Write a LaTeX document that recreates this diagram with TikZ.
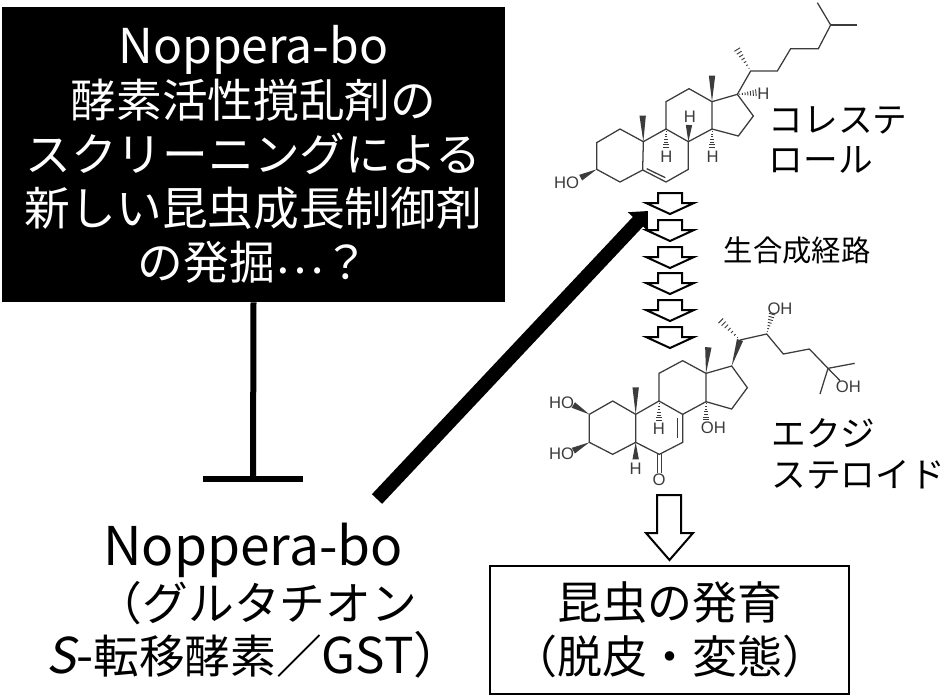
\documentclass[tikz,border=0pt]{standalone}
\usepackage{fontspec}
\setmainfont{Noto Sans CJK JP}
\newfontfamily\slantjp[FakeSlant=0.2]{Noto Sans CJK JP}
\newfontfamily\chemfont{Liberation Sans}
\usepackage{tikz}
\usetikzlibrary{calc,positioning,arrows.meta}
\definecolor{bondGris}{RGB}{60,60,60}
\tikzset{
  bigtext/.style={font=\fontsize{33.75}{40.5}\selectfont, align=center, inner sep=0pt},
  midtext/.style={font=\fontsize{26}{30.5}\selectfont, align=left, inner sep=0pt},
  smalltext/.style={font=\fontsize{22}{26}\selectfont, inner sep=0pt},
  atomo/.style={font=\chemfont\fontsize{12.5}{14}\selectfont, text=bondGris, inner sep=0pt},
  bond/.style={draw=bondGris, line width=0.95pt, line join=miter},
  hollow/.style={draw=black, fill=white, line width=1.5pt, line join=miter},
}
\newcommand{\wedgebond}[2]{\fill[bondGris] #1 -- ($#2!2.4pt!90:#1$) -- ($#2!2.4pt!-90:#1$) -- cycle;}
\newcommand{\hashbond}[2]{\foreach \t in {0.12,0.26,0.40,0.54,0.68,0.82,0.96}
  {\draw[bondGris, line width=0.7pt] ($#1!\t!#2!\t*2.6pt!90:#2$) -- ($#1!\t!#2!\t*2.6pt!-90:#2$);}}
\begin{document}
\begin{tikzpicture}[x=0.75pt,y=-0.75pt]
  \useasboundingbox (0,0) rectangle (945,697);
  % Black box
  \node[bigtext, fill=black, text=white, font=\fontsize{34.3}{40.5}\selectfont,
    minimum width=377.25pt, minimum height=221.25pt] (caja) at (253.5,154.5)
    {\fontsize{36}{40.5}\selectfont Noppera-bo\\酵素活性撹乱剤の\\スクリーニングによる\\新しい昆虫成長制御剤\\の発掘\raisebox{4.5pt}{⋯}？};
  % Inhibition bar
  \coordinate (barEnd) at (253,479);
  \coordinate (barL) at (203,479);
  \coordinate (barR) at (303,479);
  \draw[line width=4.5pt] (caja.south) -- (barEnd);
  \draw[line width=4.5pt] (barL) -- (barR);
  % GST label
  \node[bigtext, font=\fontsize{40}{44}\selectfont] (gstA) at (253,550) {Noppera-bo};
  \node[bigtext, font=\fontsize{34.3}{40}\selectfont] (gstB) at (257,603) {（グルタチオン};
  \node[bigtext, font=\fontsize{34.3}{40}\selectfont] (gstC) at (255,655)
    {\fontsize{37}{40}\selectfont{\slantjp S}-\fontsize{34.3}{40}\selectfont 転移酵素／\fontsize{37}{40}\selectfont GST）};
  % Big arrow
  \coordinate (flechaIni) at (377,499);
  \coordinate (flechaFin) at (648,211);
  \draw[line width=10.5pt, -{Triangle[length=11pt,width=20pt]}] (flechaIni) -- (flechaFin);
  % Pathway arrows
  \foreach \y in {193,220,247,273,300,327}
    \draw[hollow] (658,\y) -- (682,\y) -- (682,\y+10) -- (694,\y+10) -- (670,\y+21)
      -- (646,\y+10) -- (658,\y+10) -- cycle;
  \node[smalltext] (ruta) at (797,250) {生合成経路};
  \draw[hollow] (657,495) -- (681,495) -- (681,533) -- (693,533) -- (669.5,560)
    -- (646,533) -- (657,533) -- cycle;
  % Result box
  \node[bigtext, draw=black, line width=1.5pt, minimum width=269pt, minimum height=96pt]
    (fase) at (669.5,629.5) {昆虫の発育\\（脱皮・変態）};
  % Labels of the molecules
  \node[midtext] (colesterol) at (838,140) {コレステ\\ロール};
  \node[midtext] (ecdy) at (858,454) {エクジ\\ステロイド};
  % Cholesterol
  \begin{scope}[shift={(540,0)},x=0.25pt,y=-0.25pt]
    \draw[bond] (170,508) -- (240,546) -- (308,510) -- (310,425) -- (240,387) -- (170,428) -- cycle;
    \draw[bond] (308,510) -- (378,546) -- (445,508) -- (445,425) -- (378,387) -- (310,425);
    \draw[bond] (320,506) -- (376,533);
    \draw[bond] (378,387) -- (378,305) -- (447,266) -- (516,305) -- (516,387) -- (445,425);
    \draw[bond] (516,387) -- (595,408) -- (640,348) -- (592,283) -- (516,305);
    \draw[bond] (592,283) -- (632,213) -- (712,213) -- (752,146) -- (835,146) -- (872,75) -- (832,8);
    \draw[bond] (872,75) -- (952,75);
    \hashbond{(632,213)}{(590,146)}
    \hashbond{(592,283)}{(650,278)}
    \wedgebond{(516,305)}{(516,227)}
    \wedgebond{(310,425)}{(308,347)}
    \wedgebond{(445,425)}{(447,375)}
    \wedgebond{(170,508)}{(122,533)}
    \hashbond{(378,387)}{(378,445)}
    \hashbond{(516,387)}{(516,445)}
    \node[atomo] (hoC) at (80,547) {HO};
    \node[atomo] (hA) at (670,280) {H};
    \node[atomo] (hB) at (450,350) {H};
    \node[atomo] (hC) at (379,470) {H};
    \node[atomo] (hD) at (518,470) {H};
  \end{scope}
  % Ecdysteroid
  \begin{scope}[shift={(540,290)},x=0.25pt,y=-0.25pt]
    \draw[bond] (148,373) -- (218,333) -- (287,373) -- (287,457) -- (218,493) -- (148,457) -- cycle;
    \draw[bond] (287,373) -- (357,333) -- (428,373) -- (428,457) -- (358,493) -- (287,457);
    \draw[bond] (413,385) -- (413,445);
    \draw[bond] (357,333) -- (357,250) -- (428,212) -- (498,250) -- (498,335) -- (428,373);
    \draw[bond] (498,335) -- (575,357) -- (622,293) -- (575,228) -- (498,250);
    \draw[bond] (600,150) -- (680,132) -- (730,192) -- (808,177) -- (864,235) -- (944,220);
    \draw[bond] (864,235) -- (840,312);
    \draw[bond] (864,235) -- (900,272);
    \draw[bond] (352,493) -- (352,550);
    \draw[bond] (364,493) -- (364,550);
    \wedgebond{(575,228)}{(600,150)}
    \hashbond{(600,150)}{(540,90)}
    \hashbond{(680,132)}{(697,70)}
    \wedgebond{(498,250)}{(505,172)}
    \wedgebond{(287,373)}{(287,292)}
    \wedgebond{(148,373)}{(100,345)}
    \wedgebond{(148,457)}{(100,482)}
    \wedgebond{(287,457)}{(287,508)}
    \hashbond{(357,333)}{(357,395)}
    \hashbond{(498,335)}{(498,392)}
    \node[atomo] (hoA) at (65,338) {HO};
    \node[atomo] (hoB) at (65,490) {HO};
    \node[atomo] (ohA) at (720,55) {OH};
    \node[atomo] (ohB) at (925,290) {OH};
    \node[atomo] (ohC) at (520,412) {OH};
    \node[atomo] (hE) at (357,415) {H};
    \node[atomo] (hF) at (287,535) {H};
    \node[atomo] (oxo) at (357,568) {O};
  \end{scope}
\end{tikzpicture}
\end{document}
